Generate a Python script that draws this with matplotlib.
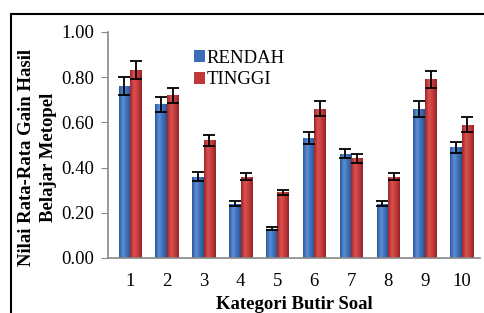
import matplotlib.pyplot as plt
import numpy as np
from matplotlib.patches import Rectangle
from matplotlib.colors import LinearSegmentedColormap

soal = [1, 2, 3, 4, 5, 6, 7, 8, 9, 10]
rendah = [0.76, 0.68, 0.36, 0.24, 0.13, 0.53, 0.46, 0.24, 0.66, 0.49]
tinggi = [0.83, 0.72, 0.52, 0.36, 0.29, 0.66, 0.44, 0.36, 0.79, 0.59]
err_rendah = [0.04, 0.034, 0.018, 0.01, 0.005, 0.026, 0.02, 0.01, 0.035, 0.025]
err_tinggi = [0.04, 0.034, 0.025, 0.015, 0.012, 0.033, 0.02, 0.015, 0.038, 0.032]

plt.rcParams['font.family'] = ['Liberation Serif', 'DejaVu Serif']

fig = plt.figure(figsize=(4.84, 3.13), dpi=100)
ax = fig.add_axes([0.223, 0.176, 0.769, 0.722])

x = np.array(soal)
w = 0.31
ekw = dict(ecolor='black', elinewidth=1.3, capsize=4, capthick=1.3, zorder=5)
b1 = ax.bar(x - w/2, rendah, w, color='#3a6db5', linewidth=0,
            yerr=err_rendah, error_kw=ekw, label='RENDAH')
b2 = ax.bar(x + w/2, tinggi, w, color='#c0383a', linewidth=0,
            yerr=err_tinggi, error_kw=ekw, label='TINGGI')

# shaded bars like the office-style gradient
cm_blue = LinearSegmentedColormap.from_list('b', ['#2d5796', '#5a8fd6', '#3c6fb8', '#2a5190'])
cm_red = LinearSegmentedColormap.from_list('r', ['#9a2628', '#dd5050', '#c23a3b', '#952426'])
grad = np.linspace(0, 1, 64).reshape(1, -1)
for bars, cm in [(b1, cm_blue), (b2, cm_red)]:
    for p in bars:
        x0, y0 = p.get_x(), p.get_y()
        im = ax.imshow(grad, cmap=cm, aspect='auto', zorder=2,
                       extent=[x0, x0 + p.get_width(), y0, y0 + p.get_height()])
        im.set_clip_path(p)

ax.set_xlim(0.4, 10.5)
ax.set_ylim(0, 1.0)
ax.set_yticks(np.arange(0, 1.01, 0.2))
ax.set_yticklabels(['%.2f' % v for v in np.arange(0, 1.01, 0.2)], fontsize=13.5)
ax.set_xticks(x)
ax.set_xticklabels([str(s) for s in soal], fontsize=13.5)
ax.tick_params(axis='x', length=0, pad=11)
ax.tick_params(axis='y', length=5, color='#888888', pad=5)
for s in ['top', 'right']:
    ax.spines[s].set_visible(False)
ax.spines['left'].set_color('#888888')
ax.spines['bottom'].set_color('#888888')
ax.spines['left'].set_linewidth(1.2)
ax.spines['bottom'].set_linewidth(1.2)
ax.spines['bottom'].set_zorder(6)

ax.set_xlabel('Kategori Butir Soal', fontsize=13.5, fontweight='bold', labelpad=4)
fig.text(37.5/484, 1 - 157/313, 'Nilai Rata-Rata Gain Hasil\nBelajar Metopel',
         rotation=90, ha='center', va='center', fontsize=13.5,
         fontweight='bold', linespacing=1.35, multialignment='center')

leg = ax.legend(loc='upper left', bbox_to_anchor=(0.21, 0.955), frameon=False,
                fontsize=13.5, handlelength=0.6, handleheight=0.6, handletextpad=0.1,
                labelspacing=0.25, borderaxespad=0)
leg.legend_handles[0].set_color('#3a6db5')
leg.legend_handles[1].set_color('#c0383a')

fig.add_artist(Rectangle((10.5/484, -0.2), 1.2, 1.2 - 13.5/313,
                         transform=fig.transFigure, fill=False,
                         edgecolor='black', linewidth=1.5))

fig.savefig('out.png', dpi=100)
